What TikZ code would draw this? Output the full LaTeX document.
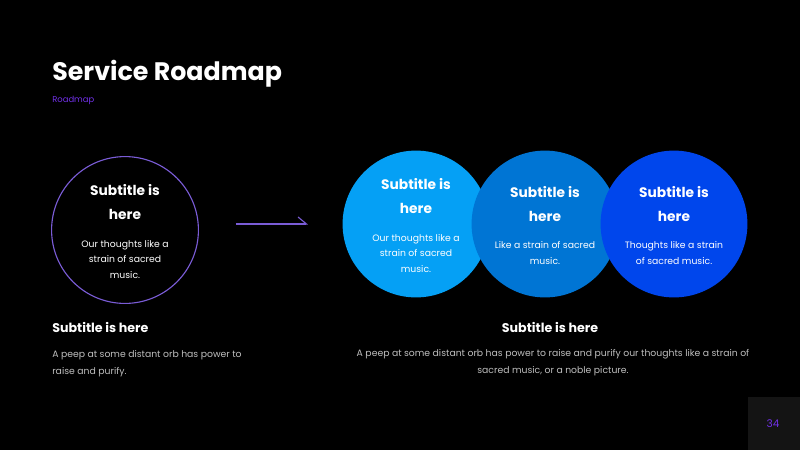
\documentclass[tikz,border=0pt]{standalone}
\usepackage{fontspec}
\setmainfont{Poppins}
\usepackage{xcolor}
\usetikzlibrary{arrows.meta, positioning}
\definecolor{pagebg}{RGB}{0,0,0}
\definecolor{tabbg}{RGB}{20,20,20}
\definecolor{accent}{RGB}{112,48,230}
\definecolor{ring}{RGB}{122,92,214}
\definecolor{bluea}{RGB}{5,160,245}
\definecolor{blueb}{RGB}{0,117,212}
\definecolor{bluec}{RGB}{0,70,236}
\definecolor{greytext}{RGB}{190,190,190}

\begin{document}
\begin{tikzpicture}[x=0.025cm, y=-0.025cm,
  circ/.style={circle, minimum size=3.67cm, inner sep=0pt},
  ctitle/.style={font=\fontsize{9.8}{16.4}\selectfont\bfseries, text=white,
    align=center, inner sep=0pt, anchor=base},
  cbody/.style={font=\fontsize{6.6}{11}\selectfont, text=white,
    align=center, inner sep=0pt, anchor=base},
  head/.style={font=\fontsize{9}{12}\selectfont\bfseries, text=white, inner sep=0pt},
  para/.style={font=\fontsize{6.6}{11.4}\selectfont, text=greytext, inner sep=0pt},
  >={Stealth}]
  % background and page tab
  \fill[pagebg] (0,0) rectangle (800,450);
  \fill[tabbg] (748,397) rectangle (800,450);
  \node[text=accent, font=\fontsize{7.5}{9}\selectfont] (pg) at (773,424) {34};

  % heading
  \node[anchor=base west, inner sep=0pt, text=white,
    font=\fontsize{18}{22}\selectfont\bfseries] (title) at (52,80) {Service Roadmap};
  \node[anchor=base west, inner sep=0pt, text=accent,
    font=\fontsize{6}{8}\selectfont] (sub) at (52,102) {Roadmap};

  % left circle
  \node[circ, draw=ring, line width=0.8pt] (c0) at (125,230) {};
  \node[ctitle] (c0t) at (125,219) {Subtitle is\\here};
  \node[cbody] (c0b) at (125,278) {Our thoughts like a\\strain of sacred\\music.};

  \coordinate (a0) at (236,224);
  \coordinate (a1) at (308,224);
  \draw[ring, line width=0.8pt, -{Straight Barb[left, length=6pt, width=10pt]}] (a0) -- (a1);

  % right circles
  \foreach \n/\cx/\col/\tb/\bb/\txt in {
      c1/416/bluea/213/272/{Our thoughts like a\\strain of sacred\\music.},
      c2/545/blueb/221/264/{Like a strain of sacred\\music.},
      c3/674/bluec/221/264/{Thoughts like a strain\\of sacred music.}} {
    \node[circ, fill=\col] (\n) at (\cx,224) {};
    \node[ctitle] (\n t) at (\cx,\tb) {Subtitle is\\here};
    \node[cbody] (\n b) at (\cx,\bb) {\txt};
  }

  % captions
  \node[head, anchor=base west] (h0) at (52,332) {Subtitle is here};
  \node[para, anchor=base west, align=left] (p0) at (52,374)
    {A peep at some distant orb has power to\\raise and purify.};
  \node[head, anchor=base] (h1) at (550,332) {Subtitle is here};
  \node[para, anchor=base, align=center] (p1) at (553,373)
    {A peep at some distant orb has power to raise and purify our thoughts like a strain of\\sacred music, or a noble picture.};
\end{tikzpicture}
\end{document}
